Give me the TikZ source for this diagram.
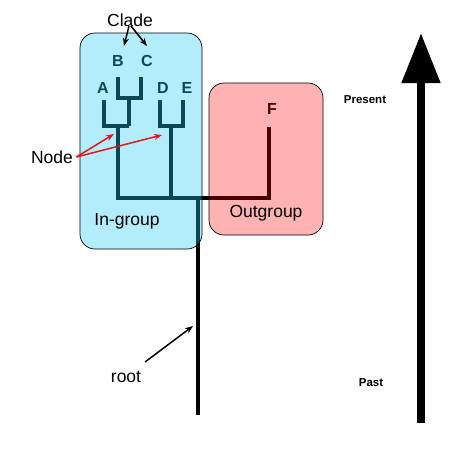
\documentclass[tikz,border=0pt]{standalone}
\usepackage{fontspec}
\setmainfont{Liberation Sans}
\usetikzlibrary{arrows.meta}
\definecolor{ingroupfill}{RGB}{36,204,247}
\definecolor{outgroupfill}{RGB}{255,0,0}
\definecolor{nodearrow}{RGB}{230,20,20}

\begin{document}
\begin{tikzpicture}[x=1pt, y=-1pt,
    branch/.style={line width=4pt},
    taxon/.style={font=\fontsize{16}{18}\selectfont\bfseries},
    lbl/.style={font=\fontsize{17.5}{20}\selectfont},
    timelbl/.style={font=\fontsize{11.5}{13}\selectfont\bfseries},
    pointer/.style={line width=1.5pt, -{Stealth[length=8pt, width=6pt]}},
    groupbox/.style={draw=black, line width=0.7pt, rounded corners=15pt}]
    \useasboundingbox (0,0) rectangle (452,453);

    % Tree (drawn first, the boxes tint it)
    \draw[branch] (118,77) -- (118,98) -- (141,98) -- (141,77);
    \draw[branch] (129,98) -- (129,126);
    \draw[branch] (104,100) -- (104,126) -- (129,126);
    \draw[branch] (160,100) -- (160,126) -- (183,126) -- (183,100);
    \draw[branch] (118,126) -- (118,198) -- (269,198) -- (269,127);
    \draw[branch] (171,126) -- (171,198);
    \draw[branch] (198,198) -- (198,415);
    \coordinate (rootpt) at (193,326);

    \node[taxon] (taxA) at (103,88) {A};
    \node[taxon] (taxB) at (118,61) {B};
    \node[taxon] (taxC) at (147,61) {C};
    \node[taxon] (taxD) at (163,88) {D};
    \node[taxon] (taxE) at (187,88) {E};
    \node[taxon] (taxF) at (272,109) {F};

    % In-group (left) and Outgroup (right)
    \draw[groupbox, fill=ingroupfill, fill opacity=0.35] (80,33) rectangle (202,249);
    \draw[groupbox, fill=outgroupfill, fill opacity=0.3] (209,83) rectangle (323,235);
    \node[lbl] (ingroup) at (127,221) {In-group};
    \node[lbl] (outgroup) at (266,213) {Outgroup};

    % Labels with pointers
    \node[lbl] (clade) at (130,20) {Clade};
    \coordinate (cladeB) at (124,46);
    \coordinate (cladeC) at (147,46);
    \draw[pointer] (129,26) -- (cladeB);
    \draw[pointer] (131,26) -- (cladeC);

    \node[lbl] (node) at (52,157) {Node};
    \coordinate (nodeA) at (114,134);
    \coordinate (nodeD) at (162,135);
    \draw[pointer, nodearrow] (node.east) -- (nodeA);
    \draw[pointer, nodearrow] (node.east) -- (nodeD);

    \node[lbl] (root) at (126,377) {root};
    \draw[pointer] (145,362) -- (rootpt);

    % Time axis
    \node[timelbl] (present) at (365,100) {Present};
    \node[timelbl] (past) at (371,383) {Past};
    \coordinate (timebot) at (421,423);
    \coordinate (timetop) at (421,33);
    \draw[line width=8pt, -{Triangle[length=50pt, width=37pt]}] (timebot) -- (timetop);
\end{tikzpicture}
\end{document}
